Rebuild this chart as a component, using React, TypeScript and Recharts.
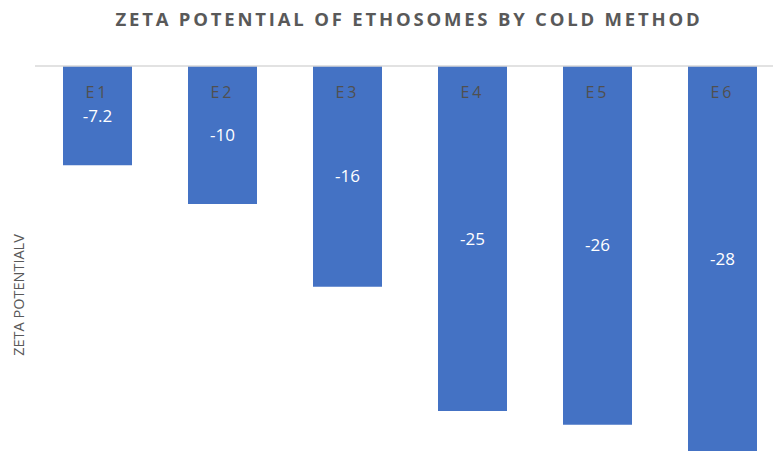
import React from 'react';
import { BarChart, Bar, XAxis, YAxis, LabelList } from 'recharts';

const categories = ['E1', 'E2', 'E3', 'E4', 'E5', 'E6'];
const zetaValues = [-7.2, -10, -16, -25, -26, -28];

const data = categories.map((name, i) => ({ name, zeta: zetaValues[i] }));

const FONT = '"Open Sans", "Liberation Sans", sans-serif';

const CategoryTick = ({ x, y, payload }: any) => (
  <text
    x={x}
    y={y + 32}
    textAnchor="middle"
    fill="#505050"
    fontSize={16}
    fontFamily={FONT}
    letterSpacing={3}
  >
    {payload.value}
  </text>
);

const AxisTitle = () => (
  <text
    x={18}
    y={295}
    transform="rotate(-90 18 295)"
    textAnchor="middle"
    dominantBaseline="central"
    fill="#595959"
    fontSize={14.5}
    fontFamily={FONT}
  >
    ZETA POTENTIALV
  </text>
);

export default function App() {
  return (
    <div
      style={{
        position: 'fixed',
        left: 0,
        top: 0,
        width: 773,
        height: 451,
        overflow: 'hidden',
        background: '#fff',
      }}
    >
      <div
        style={{
          position: 'absolute',
          top: 6,
          left: 0,
          width: 818,
          textAlign: 'center',
          fontFamily: FONT,
          fontWeight: 700,
          fontSize: 18.5,
          letterSpacing: 2.8,
          color: '#595959',
          zIndex: 2,
        }}
      >
        ZETA POTENTIAL OF ETHOSOMES BY COLD METHOD
      </div>
      <BarChart
        width={800}
        height={500}
        data={data}
        margin={{ top: 65, right: 15, bottom: 20, left: 0 }}
      >
        <Bar dataKey="zeta" fill="#4472C4" barSize={69} isAnimationActive={false}>
          <LabelList
            dataKey="zeta"
            position="center"
            fill="#ffffff"
            fontSize={17}
            fontFamily={FONT}
          />
        </Bar>
        <XAxis
          dataKey="name"
          orientation="top"
          height={1}
          tickSize={0}
          tickMargin={0}
          tickLine={false}
          axisLine={{ stroke: '#d9d9d9', strokeWidth: 1.5 }}
          tick={<CategoryTick />}
        />
        <YAxis
          width={35}
          domain={[-30, 0]}
          tick={false}
          tickLine={false}
          axisLine={false}
          label={<AxisTitle />}
        />
      </BarChart>
    </div>
  );
}
